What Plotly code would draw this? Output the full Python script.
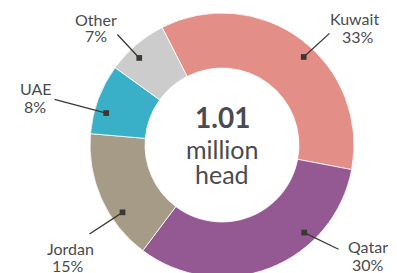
import math
import plotly.graph_objects as go

# ---- data ----
countries = ["Kuwait", "Qatar", "Jordan", "UAE", "Other"]
shares = [33, 30, 15, 8, 7]
share_labels = ["33%", "30%", "15%", "8%", "7%"]
center_value = "1.01"
center_unit = ["million", "head"]

# ---- style / layout ----
colors = ["#E38E86", "#945893", "#A69B86", "#3AB0C8", "#CCCCCC"]
OFF = 8                      # page body margin
W, H = 397 - OFF, 290        # figure size (bottom part falls outside the window)
CX, CY, R = 222, 145, 132    # page pixels
HOLE = 0.583
ROTATION = -27
TEXT_COLOR = "#4A4B4F"
LINE_COLOR = "#3B3833"
FONT = "Lato"
LABEL_SIZE = 16

# label placement in page pixels: name centre, percentage centre, leader-line tail
name_pos = [(354, 18.5), (368, 246.5), (71, 248), (35.5, 88.7), (96, 19.3)]
pct_pos = [(357.5, 36.3), (368, 264.3), (68, 265.5), (35.3, 106), (95.7, 36)]
tail_pos = [(331, 32), (340, 250), (88, 235), (53, 99), (116, 33)]
angle_tweak = [6, -22, -10, -5, -3]
anchor_frac = 0.91


def px(x):
    return (x - OFF) / W


def py(y):
    return 1 - (y - OFF) / H


fig = go.Figure()
fig.add_trace(go.Pie(
    labels=countries,
    values=shares,
    sort=False,
    direction="clockwise",
    rotation=ROTATION,
    hole=HOLE,
    textinfo="none",
    marker=dict(colors=colors, line=dict(color="white", width=0.8)),
    domain=dict(x=[px(CX - R), px(CX + R)], y=[py(CY + R), py(CY - R)]),
    showlegend=False,
))


def text_ann(x, y, text, size, bold=False, box_h=None):
    ann = dict(
        x=px(x), y=py(y), xref="paper", yref="paper", showarrow=False,
        text=f"<b>{text}</b>" if bold else text,
        xanchor="center", yanchor="middle", align="center", valign="middle",
        font=dict(family=FONT, size=size, color=TEXT_COLOR),
        borderpad=0, borderwidth=0,
    )
    if box_h:
        ann["height"] = box_h
    return ann


annotations = []
total = sum(shares)
start = ROTATION
for i, (name, v) in enumerate(zip(countries, shares)):
    span = v / total * 360
    mid = start + span / 2 + angle_tweak[i]
    start += span
    a = math.radians(mid)
    ax_px = CX + anchor_frac * R * math.sin(a)
    ay_px = CY - anchor_frac * R * math.cos(a)
    tx, ty = tail_pos[i]
    annotations.append(dict(
        x=px(ax_px), y=py(ay_px), xref="paper", yref="paper",
        text="", showarrow=True, arrowhead=7, arrowsize=1.1, arrowwidth=1.3,
        arrowcolor=LINE_COLOR, ax=tx - ax_px, ay=ty - ay_px,
        standoff=0, startstandoff=0,
    ))
    annotations.append(text_ann(*name_pos[i], name, LABEL_SIZE, box_h=17))
    annotations.append(text_ann(*pct_pos[i], share_labels[i], LABEL_SIZE, box_h=17))

annotations.append(text_ann(CX, 117.5, center_value, 28, bold=True, box_h=26))
annotations.append(text_ann(CX, 149, center_unit[0], 25, box_h=24))
annotations.append(text_ann(CX, 174, center_unit[1], 25, box_h=24))

fig.update_layout(
    width=W, height=H,
    margin=dict(l=0, r=0, t=0, b=0),
    paper_bgcolor="white", plot_bgcolor="white",
    annotations=annotations,
)

fig.write_html("out.html")
